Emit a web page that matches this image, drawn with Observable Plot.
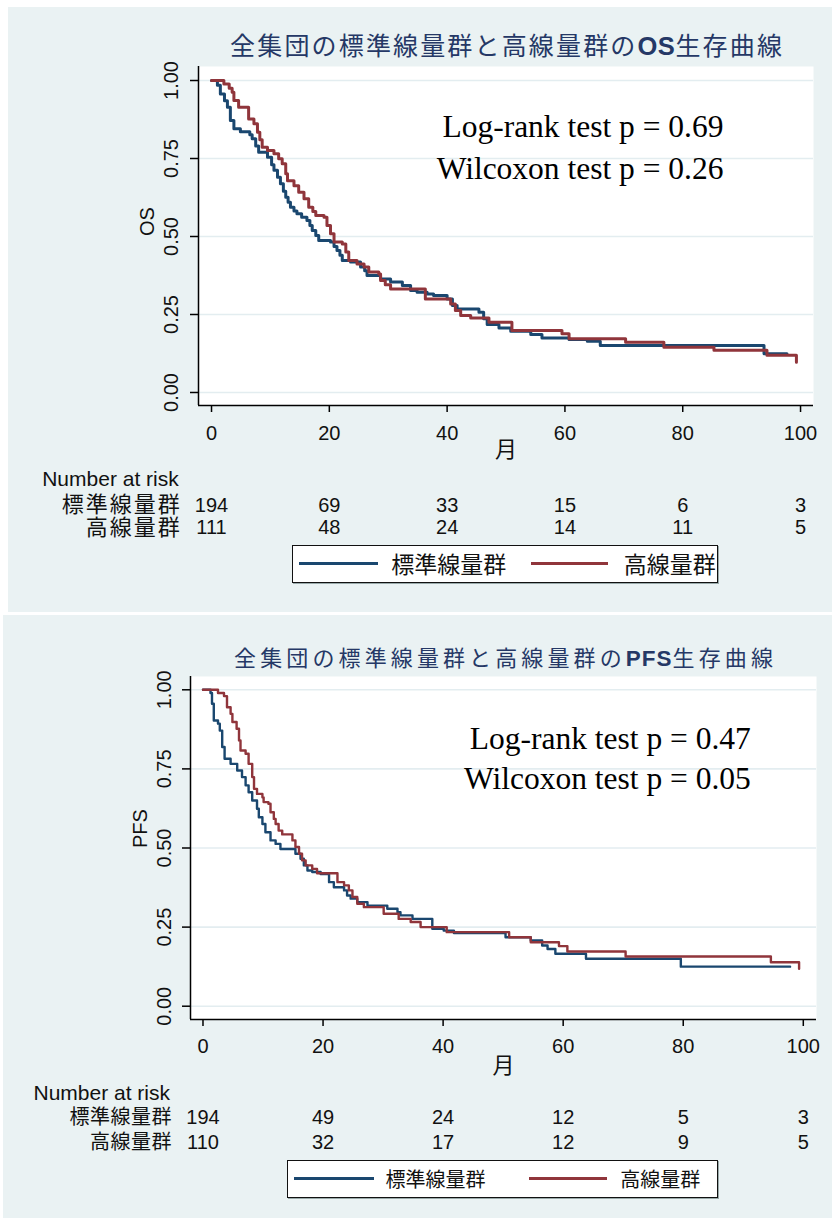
<!DOCTYPE html>
<html><head><meta charset="utf-8">
<script src="https://cdn.jsdelivr.net/npm/d3@7"></script>
<script src="https://cdn.jsdelivr.net/npm/@observablehq/plot@0.6"></script>
<style>
html,body{margin:0;padding:0;background:#fff;}
body{width:832px;height:1218px;position:relative;overflow:hidden;}
.panel{position:absolute;}
.panel svg{display:block;max-width:none;}
.legend{position:absolute;background:#fff;border:1.5px solid #111;box-sizing:border-box;font-family:"Noto Sans CJK JP";color:#111;overflow:hidden;box-shadow:1px 1px 0 #9aa;}
.legend .sw{position:absolute;height:3px;}
.legend .lb{position:absolute;white-space:nowrap;top:0;}
</style></head><body>
<script>
// ---------------- data ----------------
const timeTicks = [0, 20, 40, 60, 80, 100];
const survTicks = [0, 0.25, 0.5, 0.75, 1];
const groups = ["標準線量群", "高線量群"];
const groupColors = ["#1a476f", "#90353b"];

// OS – standard dose
const osStdT = [0,1.0,1.5,2.2,2.7,3.2,3.8,4.9,6.5,6.9,7.5,8.0,9.5,10.2,10.6,11.2,11.7,12.2,12.6,13.0,13.4,14.0,14.5,15.3,16.2,16.7,17.1,17.7,18.2,20.2,20.8,21.3,21.8,22.2,23.6,25.3,26.0,26.4,28.7,30.4,32.4,33.8,34.9,36.6,37.7,40.0,40.9,41.7,45.4,46.2,46.8,48.8,50.8,54.2,56.1,60.7,63.8,66.0,93.8,97.7];
const osStdS = [1.0,0.985,0.957,0.935,0.914,0.872,0.845,0.836,0.826,0.813,0.79,0.77,0.754,0.73,0.712,0.69,0.669,0.645,0.626,0.61,0.594,0.582,0.573,0.562,0.551,0.535,0.519,0.503,0.487,0.482,0.468,0.455,0.44,0.423,0.418,0.402,0.39,0.375,0.364,0.354,0.343,0.327,0.321,0.316,0.311,0.300,0.279,0.268,0.257,0.236,0.218,0.207,0.196,0.186,0.175,0.170,0.164,0.151,0.124,0.124];
// OS – high dose
const osHighT = [0,2.1,3.0,3.5,3.8,4.6,6.3,7.2,7.8,8.2,8.6,9.5,10.6,11.4,12.0,12.6,12.9,14.0,14.8,15.7,16.5,17.2,17.7,19.1,19.6,20.2,20.8,22.2,22.8,23.3,24.7,25.9,26.7,28.4,28.7,29.5,30.4,36.3,40.6,41.4,42.3,44.0,47.1,51.0,59.5,60.7,70.3,76.8,85.3,94.3,99.3];
const osHighS = [1.0,0.989,0.975,0.962,0.936,0.914,0.877,0.861,0.834,0.81,0.786,0.776,0.765,0.749,0.733,0.701,0.679,0.663,0.642,0.621,0.594,0.58,0.567,0.562,0.535,0.509,0.482,0.476,0.45,0.423,0.412,0.402,0.386,0.38,0.359,0.345,0.332,0.300,0.284,0.263,0.247,0.239,0.225,0.199,0.188,0.172,0.161,0.145,0.135,0.119,0.097];
// PFS – standard dose
const pfsStdT = [0,1.25,1.5,1.8,2.5,2.8,3.2,3.6,4.6,5.7,6.5,7.1,7.6,8.2,9.0,9.3,9.9,10.4,11.25,12.1,12.9,15.4,16.25,16.8,17.4,18.2,19.6,21.0,21.8,23.5,24.0,24.6,25.7,27.4,30.7,32.4,32.9,34.9,38.2,40.1,41.8,50.4,54.6,56.5,57.4,58.7,63.8,79.6,97.8];
const pfsStdS = [1.0,0.99,0.956,0.903,0.893,0.871,0.819,0.782,0.766,0.745,0.724,0.698,0.676,0.65,0.624,0.597,0.576,0.55,0.524,0.513,0.497,0.482,0.466,0.445,0.429,0.424,0.418,0.392,0.376,0.366,0.35,0.34,0.329,0.318,0.308,0.297,0.287,0.276,0.245,0.239,0.231,0.218,0.208,0.192,0.181,0.166,0.150,0.125,0.125];
// PFS – high dose
const pfsHighT = [0,2.5,3.5,4.0,4.6,4.9,5.6,6.0,6.25,7.1,7.6,8.2,8.5,9.0,9.9,10.1,10.9,11.25,11.8,12.1,12.6,13.2,14.9,15.4,16.0,16.5,17.1,18.2,19.0,22.4,23.5,24.3,24.9,25.7,26.8,30.1,32.6,34.6,36.25,40.6,51.0,54.6,59.3,60.7,70.4,94.6,99.3];
const pfsHighS = [1.0,0.99,0.98,0.945,0.924,0.898,0.877,0.84,0.808,0.798,0.766,0.724,0.687,0.671,0.66,0.645,0.64,0.613,0.592,0.576,0.555,0.543,0.524,0.503,0.482,0.461,0.445,0.434,0.42,0.392,0.382,0.366,0.345,0.324,0.313,0.292,0.276,0.266,0.25,0.234,0.218,0.202,0.19,0.173,0.157,0.139,0.118];

// Number at risk
const osRiskStd = [194, 69, 33, 15, 6, 3];
const osRiskHigh = [111, 48, 24, 14, 11, 5];
const pfsRiskStd = [194, 49, 24, 12, 5, 3];
const pfsRiskHigh = [110, 32, 17, 12, 9, 5];

// texts
const osTitle = ["全集団の標準線量群と高線量群の", "OS", "生存曲線"];
const pfsTitle = ["全集団の標準線量群と高線量群の", "PFS", "生存曲線"];
const osTests = ["Log-rank test p = 0.69", "Wilcoxon test p = 0.26"];
const pfsTests = ["Log-rank test p = 0.47", "Wilcoxon test p = 0.05"];
const xLabel = "月";
const riskLabel = "Number at risk";

// ---------------- drawing ----------------
const SANS = "'Liberation Sans', Arial, sans-serif";
const CJK = "'Noto Sans CJK JP', sans-serif";
const SERIF = "'Liberation Serif', 'Times New Roman', serif";
const BG = "#eaf2f3";

function drawPanel(cfg) {
  const rows = [];
  cfg.curves.forEach((c, k) => c.t.forEach((t, i) => rows.push({t, s: c.s[i], g: groups[k]})));
  const riskRows = cfg.risk.map(r => r.map((n, i) => ({t: timeTicks[i], n})));
  const mid = {lineAnchor: "middle"};
  const titleText = cfg.title.join("");

  const marks = [
    Plot.frame({fill: "white", stroke: "none"}),
    Plot.gridY({ticks: survTicks, stroke: "#e3edf0", strokeOpacity: 1, strokeWidth: 1.6}),
    Plot.line(rows, {x: "t", y: "s", z: "g", stroke: "g", curve: "step-after", strokeWidth: cfg.lineWidth}),
    Plot.ruleX([cfg.xDomain[0]], {stroke: "#000", strokeWidth: 1.5}),
    Plot.ruleY([cfg.yDomain[0]], {stroke: "#000", strokeWidth: 1.5}),
    Plot.axisX({ticks: timeTicks, tickSize: 7, tickPadding: cfg.xPad, fontSize: 20, label: null, stroke: "#000", strokeWidth: 1.5}),
    Plot.axisY({ticks: survTicks, tickFormat: d3.format(".2f"), tickRotate: -90, tickSize: 8, tickPadding: cfg.yPad, fontSize: 20, label: null, stroke: "#000", strokeWidth: 1.5}),
    Plot.text([cfg.yLabel], {...mid, frameAnchor: "left", dx: cfg.yLabelDx, rotate: -90, fontSize: 20, fill: "#111"}),
    Plot.text([xLabel], {...mid, frameAnchor: "bottom", dy: cfg.xLabelDy, fontSize: 22, fontFamily: CJK, fill: "#111"}),
    Plot.text([titleText], {...mid, frameAnchor: "top", dy: cfg.titleDy, fontSize: cfg.titleSize, fontFamily: CJK, fill: "#253866"}),
    Plot.text([cfg.tests[0]], {...mid, frameAnchor: "top-right", dx: cfg.testDx, dy: cfg.testDy[0], textAnchor: "end", fontSize: 31.5, fontFamily: SERIF, fill: "#000"}),
    Plot.text([cfg.tests[1]], {...mid, frameAnchor: "top-right", dx: cfg.testDx, dy: cfg.testDy[1], textAnchor: "end", fontSize: 31.5, fontFamily: SERIF, fill: "#000"}),
    Plot.text([riskLabel], {...mid, frameAnchor: "bottom-left", dx: cfg.riskLabelDx, dy: cfg.riskDy[0], textAnchor: "start", fontSize: 21, fill: "#111"}),
  ];
  groups.forEach((g, k) => {
    marks.push(Plot.text([g], {...mid, frameAnchor: "bottom-left", dx: cfg.rowLabelDx, dy: cfg.riskDy[k + 1], textAnchor: "end", fontSize: cfg.rowLabelSize, fontFamily: CJK, fill: "#111"}));
    marks.push(Plot.text(riskRows[k], {...mid, x: "t", text: "n", frameAnchor: "bottom", dy: cfg.riskDy[k + 1], fontSize: 20, fill: "#111"}));
  });

  const svg = Plot.plot({
    width: cfg.w, height: cfg.h,
    marginLeft: cfg.m[0], marginRight: cfg.m[1], marginTop: cfg.m[2], marginBottom: cfg.m[3],
    x: {domain: cfg.xDomain},
    y: {domain: cfg.yDomain},
    color: {domain: groups, range: groupColors},
    style: {background: BG, fontFamily: SANS, color: "#111", overflow: "visible"},
    marks
  });

  const wrap = document.createElement("div");
  wrap.className = "panel";
  Object.assign(wrap.style, {left: cfg.left + "px", top: cfg.top + "px", width: cfg.w + "px", height: cfg.h + "px"});
  wrap.appendChild(svg);
  document.body.appendChild(wrap);

  // post-process texts: bold latin key in title, title stretched to reference width, row label spacing
  const ns = "http://www.w3.org/2000/svg";
  svg.querySelectorAll("text").forEach(t => {
    const s = t.textContent;
    if (s === titleText) {
      t.textContent = "";
      const spans = cfg.title.map((part, i) => {
        const ts = document.createElementNS(ns, "tspan");
        ts.textContent = part;
        if (i === 1) { ts.setAttribute("font-family", SANS); ts.setAttribute("font-weight", "bold"); ts.setAttribute("font-size", cfg.titleSize * 1.02); }
        t.appendChild(ts);
        return ts;
      });
      let w = 0;
      try { w = t.getComputedTextLength(); } catch (e) { w = 0; }
      const nCjk = cfg.title[0].length + cfg.title[2].length;
      const nLat = cfg.title[1].length;
      if (w > 0) {
        const ls = (cfg.titleWidth - w) / (nCjk + 0.25 * nLat);
        t.style.letterSpacing = ls + "px";
        spans[1].style.letterSpacing = (0.25 * ls) + "px";
        const tr = t.getAttribute("transform") || "";
        t.setAttribute("transform", tr + ` translate(${ls / 2},0)`);
      } else {
        t.setAttribute("textLength", cfg.titleWidth); t.setAttribute("lengthAdjust", "spacing");
      }
    } else if (groups.includes(s)) {
      t.style.letterSpacing = cfg.rowLabelSpacing + "px";
    }
  });

  // legend box
  const L = cfg.legend;
  const box = document.createElement("div");
  box.className = "legend";
  Object.assign(box.style, {left: L.left + "px", top: L.top + "px", width: L.width + "px", height: L.height + "px"});
  groups.forEach((g, k) => {
    const sw = document.createElement("div");
    sw.className = "sw";
    Object.assign(sw.style, {left: L.sw[k][0] + "px", width: L.sw[k][1] + "px", top: (L.height - 3) / 2 - 1.5 + "px", background: groupColors[k]});
    box.appendChild(sw);
    const lb = document.createElement("div");
    lb.className = "lb";
    lb.textContent = g;
    Object.assign(lb.style, {left: L.lb[k] + "px", fontSize: L.size + "px", lineHeight: (L.height - 3) + "px"});
    box.appendChild(lb);
  });
  document.body.appendChild(box);
}

drawPanel({
  left: 8, top: 7, w: 824, h: 605, m: [190, 19, 59, 207],
  xDomain: [-2.21, 102.2], yDomain: [-0.0417, 1.0449],
  curves: [{t: osStdT, s: osStdS}, {t: osHighT, s: osHighS}],
  risk: [osRiskStd, osRiskHigh],
  lineWidth: 3,
  xPad: 13, yPad: 13,
  yLabel: "OS", yLabelDx: -51, xLabelDy: 44,
  title: osTitle, titleDy: -20, titleSize: 25, titleWidth: 554,
  tests: osTests, testDx: -90, testDy: [60.7, 102.3],
  riskLabelDx: -156.3, rowLabelDx: -16.7, rowLabelSize: 22, rowLabelSpacing: 2,
  riskDy: [74.2, 99.7, 122],
  legend: {left: 291.7, top: 545, width: 426, height: 38.3, size: 23, sw: [[6, 79], [238, 77]], lb: [98.5, 331]}
});

drawPanel({
  left: 3, top: 615, w: 829, h: 603, m: [187, 16, 61, 199],
  xDomain: [-2.08, 102.2], yDomain: [-0.042, 1.042],
  curves: [{t: pfsStdT, s: pfsStdS}, {t: pfsHighT, s: pfsHighS}],
  risk: [pfsRiskStd, pfsRiskHigh],
  lineWidth: 2.4,
  xPad: 12, yPad: 12,
  yLabel: "PFS", yLabelDx: -50, xLabelDy: 46,
  title: pfsTitle, titleDy: -18, titleSize: 22, titleWidth: 543,
  tests: pfsTests, testDx: -65.7, testDy: [62, 102],
  riskLabelDx: -157, rowLabelDx: -18.5, rowLabelSize: 20, rowLabelSpacing: 0.5,
  riskDy: [74, 98, 122.7],
  legend: {left: 286.5, top: 1160, width: 431, height: 38, size: 20, sw: [[6, 80], [241, 78]], lb: [98, 332.7]}
});
</script>
</body></html>
